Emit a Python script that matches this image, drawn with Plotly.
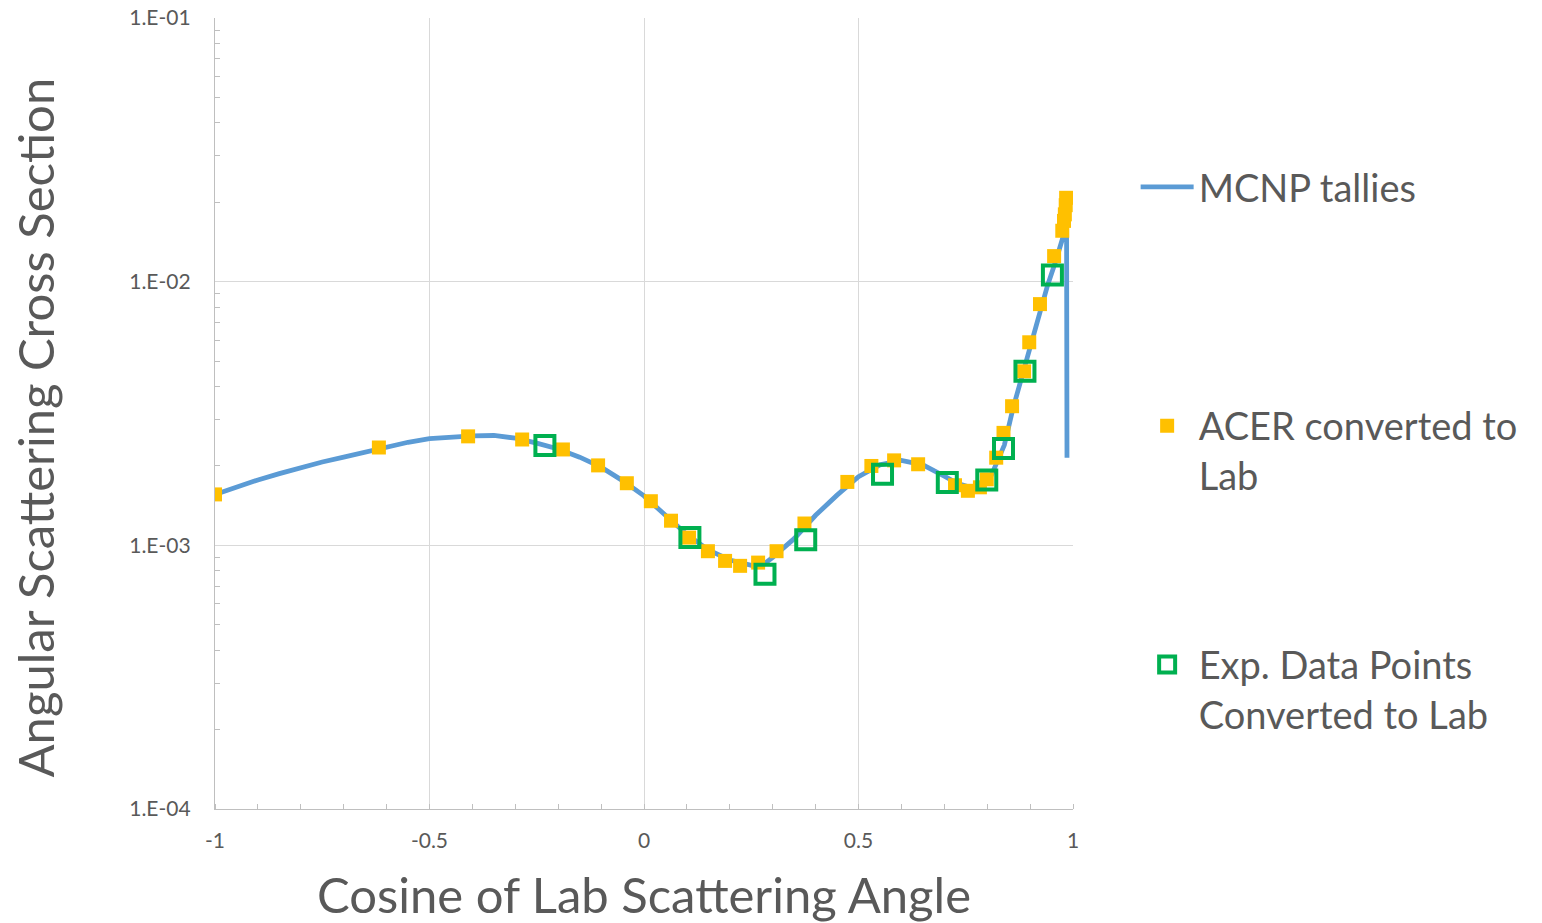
import plotly.graph_objects as go

# MCNP tallies (line)
mcnp_x = [-1.00, -0.95, -0.90, -0.85, -0.80, -0.75, -0.70, -0.65, -0.60, -0.55, -0.50, -0.45,
          -0.40, -0.35, -0.30, -0.25, -0.20, -0.15, -0.10, -0.05, 0.00, 0.05, 0.10, 0.15,
          0.20, 0.25, 0.28, 0.30, 0.35, 0.40, 0.45, 0.50, 0.55, 0.60, 0.65, 0.70, 0.73,
          0.76, 0.79, 0.81, 0.83, 0.84, 0.86, 0.88, 0.90, 0.92, 0.94, 0.96, 0.978, 0.985, 0.986]
mcnp_y = [1.56e-3, 1.67e-3, 1.77e-3, 1.87e-3, 1.97e-3, 2.07e-3, 2.16e-3, 2.26e-3, 2.36e-3,
          2.46e-3, 2.54e-3, 2.58e-3, 2.60e-3, 2.61e-3, 2.55e-3, 2.44e-3, 2.32e-3, 2.16e-3,
          1.98e-3, 1.76e-3, 1.54e-3, 1.30e-3, 1.10e-3, 9.6e-4, 8.8e-4, 8.4e-4, 8.5e-4, 9.0e-4,
          1.06e-3, 1.30e-3, 1.55e-3, 1.82e-3, 2.02e-3, 2.10e-3, 2.02e-3, 1.83e-3, 1.72e-3,
          1.66e-3, 1.70e-3, 1.85e-3, 2.20e-3, 2.40e-3, 3.30e-3, 4.30e-3, 5.70e-3, 7.50e-3,
          9.60e-3, 1.20e-2, 1.50e-2, 1.55e-2, 2.15e-3]

# ACER converted to Lab (filled yellow squares)
acer_x = [-1.000, -0.618, -0.410, -0.284, -0.189, -0.107, -0.040, 0.016, 0.063, 0.105, 0.149,
          0.189, 0.224, 0.266, 0.309, 0.374, 0.474, 0.530, 0.583, 0.639, 0.725, 0.755, 0.783,
          0.799, 0.821, 0.838, 0.858, 0.886, 0.898, 0.923, 0.956, 0.975, 0.979, 0.981, 0.983,
          0.984]
acer_y = [1.56e-3, 2.35e-3, 2.59e-3, 2.52e-3, 2.31e-3, 2.01e-3, 1.72e-3, 1.47e-3, 1.24e-3,
          1.07e-3, 9.5e-4, 8.73e-4, 8.36e-4, 8.6e-4, 9.5e-4, 1.21e-3, 1.74e-3, 2.00e-3, 2.10e-3,
          2.03e-3, 1.69e-3, 1.61e-3, 1.66e-3, 1.78e-3, 2.15e-3, 2.67e-3, 3.37e-3, 4.57e-3,
          5.89e-3, 8.22e-3, 1.25e-2, 1.56e-2, 1.70e-2, 1.80e-2, 1.95e-2, 2.08e-2]

# Experimental data points converted to Lab (open green squares)
exp_x = [-0.231, 0.107, 0.282, 0.377, 0.556, 0.707, 0.799, 0.838, 0.888, 0.952]
exp_y = [2.39e-3, 1.07e-3, 7.76e-4, 1.05e-3, 1.86e-3, 1.73e-3, 1.77e-3, 2.33e-3, 4.57e-3, 1.06e-2]

x_ticks = [-1, -0.5, 0, 0.5, 1]
x_ticktext = ["-1", "-0.5", "0", "0.5", "1"]
y_ticks = [1e-4, 1e-3, 1e-2, 1e-1]
y_ticktext = ["1.E-04", "1.E-03", "1.E-02", "1.E-01"]
y_minor = [m * 10.0 ** e for e in (-4, -3, -2) for m in range(2, 10)]

FONT = "Lato"
TXT = "#595959"

fig = go.Figure()
fig.add_trace(go.Scatter(
    x=mcnp_x, y=mcnp_y, mode="lines", name="MCNP tallies<br> ",
    line=dict(color="#5B9BD5", width=4.8), legendgroup="a"))
fig.add_trace(go.Scatter(
    x=acer_x, y=acer_y, mode="markers", name="ACER converted to<br>Lab",
    marker=dict(symbol="square", color="#FFC000", size=14), legendgroup="b"))
fig.add_trace(go.Scatter(
    x=exp_x, y=exp_y, mode="markers", name="Exp. Data Points<br>Converted to Lab",
    marker=dict(symbol="square-open", color="#00B050", size=19,
                line=dict(width=4, color="#00B050")), legendgroup="c"))

fig.add_annotation(
    text="Angular Scattering Cross Section", textangle=-90,
    xref="paper", yref="paper", x=-0.2098, y=0.4823,
    xanchor="center", yanchor="middle", showarrow=False,
    font=dict(size=49, color=TXT, family=FONT))

fig.update_layout(
    width=1542, height=923,
    margin=dict(l=215, r=469, t=18, b=114),
    plot_bgcolor="white", paper_bgcolor="white",
    font=dict(family=FONT, color=TXT),
    showlegend=True,
    legend=dict(x=1.073, xanchor="left", y=0.826, yanchor="top",
                font=dict(size=38, color=TXT, family=FONT),
                tracegroupgap=137, itemwidth=53, valign="top",
                bgcolor="rgba(0,0,0,0)"),
    xaxis=dict(
        range=[-1, 1], tickvals=x_ticks, ticktext=x_ticktext, automargin=False,
        showgrid=True, gridcolor="#d9d9d9", gridwidth=1.3,
        showline=True, linecolor="#bfbfbf", linewidth=1.3,
        zeroline=False, ticks="", ticklabelstandoff=13,
        tickfont=dict(size=21, color=TXT, family=FONT),
        minor=dict(dtick=0.1, tick0=0, ticks="inside", ticklen=5,
                   tickcolor="#bfbfbf", showgrid=False),
        title=dict(text="Cosine of Lab Scattering Angle",
                   font=dict(size=49, color=TXT, family=FONT), standoff=28),
    ),
    yaxis=dict(
        type="log", range=[-4, -1], tickvals=y_ticks, ticktext=y_ticktext, automargin=False,
        showgrid=True, gridcolor="#d9d9d9", gridwidth=1.3,
        showline=True, linecolor="#bfbfbf", linewidth=1.3,
        zeroline=False, ticks="", ticklabelstandoff=19,
        tickfont=dict(size=21, color=TXT, family=FONT),
        minor=dict(tickmode="array", tickvals=y_minor, ticks="inside", ticklen=5,
                   tickcolor="#bfbfbf", showgrid=False),
    ),
)

fig.write_html("out.html")
